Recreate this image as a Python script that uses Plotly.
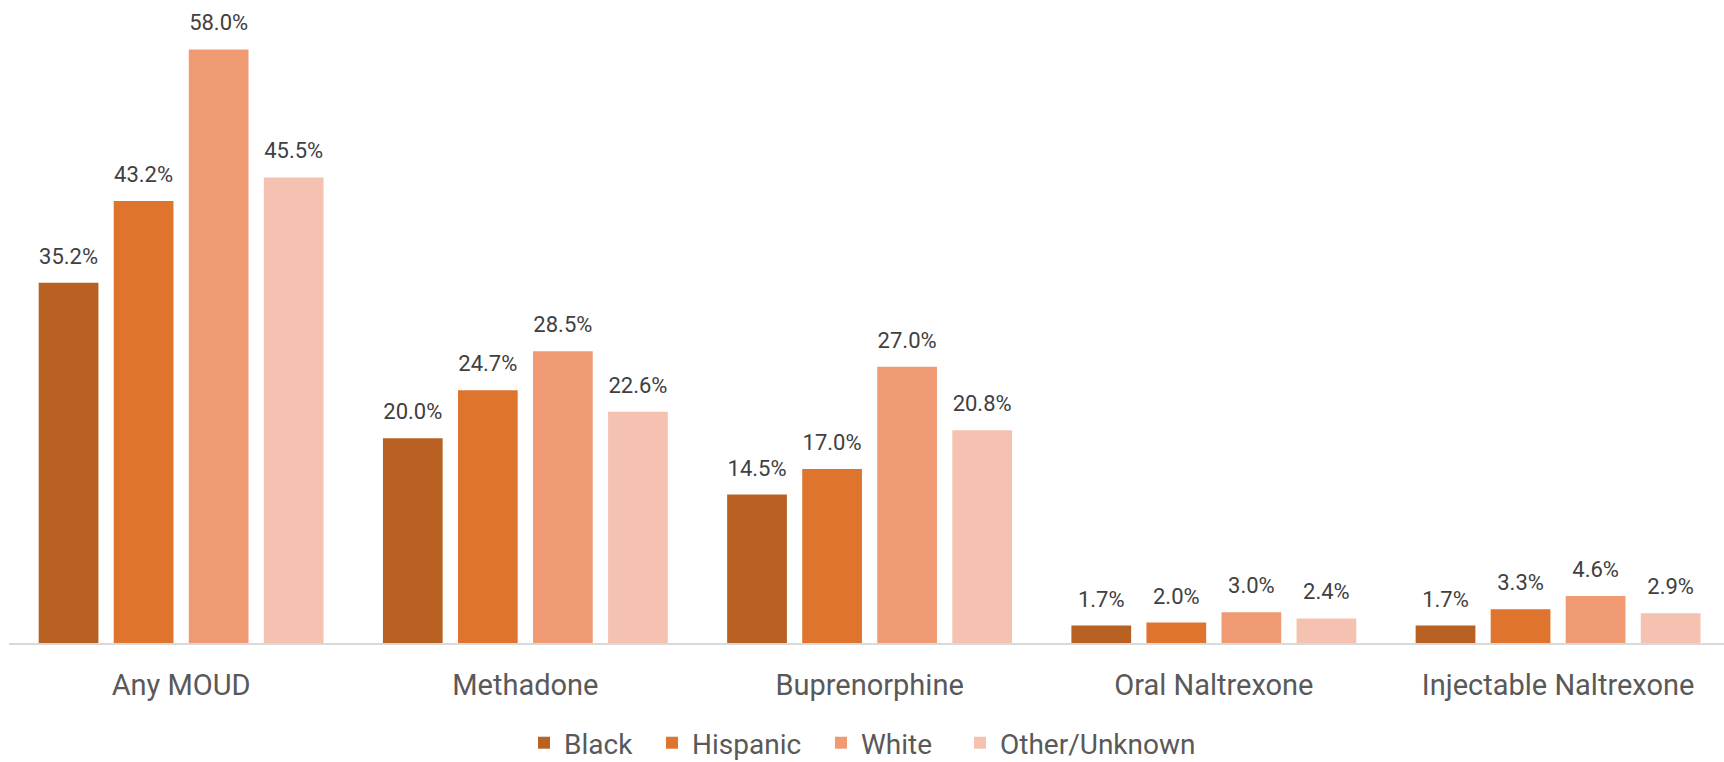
import plotly.graph_objects as go

# Share of patients receiving each treatment, by race/ethnicity (%)
categories = ["Any MOUD", "Methadone", "Buprenorphine", "Oral Naltrexone", "Injectable Naltrexone"]
groups = ["Black", "Hispanic", "White", "Other/Unknown"]
black = [35.2, 20.0, 14.5, 1.7, 1.7]
hispanic = [43.2, 24.7, 17.0, 2.0, 3.3]
white = [58.0, 28.5, 27.0, 3.0, 4.6]
other_unknown = [45.5, 22.6, 20.8, 2.4, 2.9]

series = [black, hispanic, white, other_unknown]
colors = ["#B96023", "#DE742D", "#F09A73", "#F5C2B1"]

FONT = "Roboto"
BARGAP = 0.128

# one legend box per series, laid out left to right below the axis
legend_ids = ["legend", "legend2", "legend3", "legend4"]
legend_x = [524, 652, 821, 960]

fig = go.Figure()

for name, vals, col, lid in zip(groups, series, colors, legend_ids):
    fig.add_trace(go.Bar(
        x=categories, y=vals, name=name,
        marker=dict(color=col, line=dict(width=0)),
        hoverinfo="skip", legend=lid,
    ))

# value labels, grouped the same way as the bars so each sits above its bar
for name, vals in zip(groups, series):
    fig.add_trace(go.Scatter(
        x=categories, y=vals, mode="markers+text",
        text=[f"{v:.1f}%" for v in vals],
        textposition="top center",
        textfont=dict(family=FONT, size=22, color="#404040"),
        marker=dict(size=20, color="rgba(0,0,0,0)"),
        showlegend=False, hoverinfo="skip", cliponaxis=False,
    ))

legend_style = dict(
    orientation="h", xref="container", yref="paper",
    xanchor="left", y=-0.2036, yanchor="bottom",
    font=dict(family=FONT, size=28, color="#595959"),
    bgcolor="rgba(0,0,0,0)",
)

fig.update_layout(
    width=1724, height=762,
    margin=dict(l=9, r=0, t=29, b=119, autoexpand=False),
    paper_bgcolor="white", plot_bgcolor="white",
    barmode="group", bargap=BARGAP, bargroupgap=0.204,
    scattermode="group", scattergap=BARGAP,
    font=dict(family=FONT, color="#595959"),
    showlegend=True,
    xaxis=dict(
        type="category", range=[-0.5, 4.482],
        showline=True, linecolor="#D9D9D9", linewidth=2,
        ticks="", showgrid=False, zeroline=False,
        tickfont=dict(family=FONT, size=29, color="#595959"),
        ticklabelstandoff=15, automargin=False,
    ),
    yaxis=dict(
        range=[0, 60], visible=False, showgrid=False, zeroline=False,
    ),
)
for lid, lx in zip(legend_ids, legend_x):
    fig.update_layout({lid: dict(legend_style, x=lx / 1724)})

fig.write_html("out.html")
